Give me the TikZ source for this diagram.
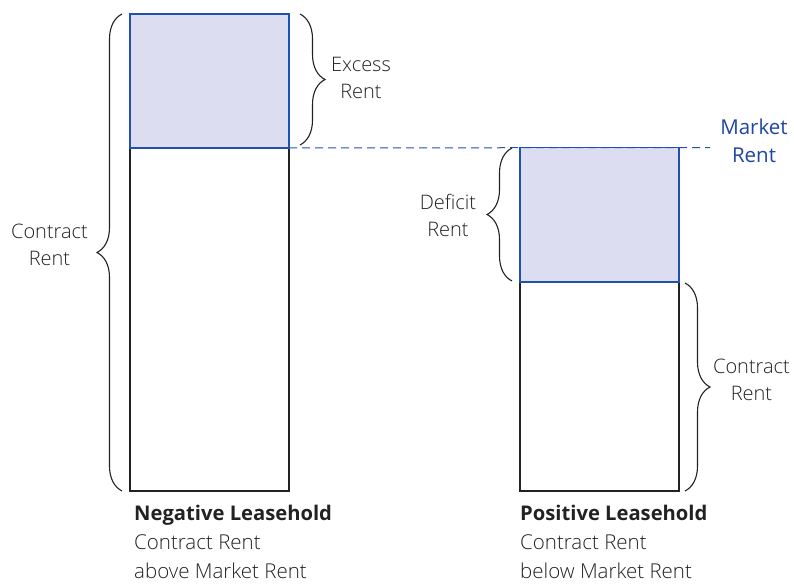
\documentclass[tikz,border=0pt]{standalone}
\usepackage{fontspec}
\setmainfont{Open Sans}
\newfontfamily\regfont{Open Sans}
\IfFontExistsTF{Open Sans Light}{\newfontfamily\lightfont{Open Sans Light}}{\newfontfamily\lightfont{Open Sans}}
\usetikzlibrary{decorations.pathreplacing}
\definecolor{boxfill}{HTML}{DCDDF0}
\definecolor{boxblue}{HTML}{2050B0}
\definecolor{txtblue}{HTML}{1F47A0}
\definecolor{ink}{HTML}{222222}
\tikzset{
  lbl/.style={font=\lightfont\fontsize{20}{27}\selectfont, text=ink, inner sep=0pt, anchor=base},
  lblw/.style={lbl, anchor=base west, font=\lightfont\fontsize{20.5}{27}\selectfont},
  boldlbl/.style={lblw, font=\regfont\bfseries\fontsize{20.2}{27}\selectfont},
  bluelbl/.style={lbl, text=txtblue, font=\regfont\fontsize{20.5}{27}\selectfont},
  excessbox/.style={draw=boxblue, fill=boxfill, line width=1.1pt},
  rentbox/.style={draw=ink, line width=1.1pt},
  bracket/.style={draw=ink, line width=1.1pt, decorate, decoration={brace, amplitude=25pt}},
  marketline/.style={draw=boxblue, line width=1pt, dash pattern=on 8pt off 5pt}
}
\begin{document}
\begin{tikzpicture}[x=1pt,y=-1pt]
\useasboundingbox (0,0) rectangle (794,583);
% left column
\coordinate (LTL) at (130,14);
\coordinate (LMR) at (289,148);
\coordinate (LML) at (130,148);
\coordinate (LBR) at (289,491);
\draw[rentbox] (LML) rectangle (LBR);
\draw[excessbox] (LTL) rectangle (LMR);
% right column
\coordinate (RTL) at (520,147.5);
\coordinate (RMR) at (679,282);
\coordinate (RML) at (520,282);
\coordinate (RBR) at (679,491);
\draw[rentbox] (RML) rectangle (RBR);
\draw[excessbox] (RTL) rectangle (RMR);
% market rent line
\coordinate (MEnd) at (710,147.5);
\draw[marketline] (LMR) -- (MEnd);
% braces
\coordinate (B1a) at (122,491); \coordinate (B1b) at (122,14);
\draw[bracket] (B1a) -- (B1b);
\coordinate (B2a) at (300,14); \coordinate (B2b) at (300,145);
\draw[bracket] (B2a) -- (B2b);
\coordinate (B3a) at (512,281); \coordinate (B3b) at (512,148);
\draw[bracket] (B3a) -- (B3b);
\coordinate (B4a) at (685,283); \coordinate (B4b) at (685,491);
\draw[bracket] (B4a) -- (B4b);
% labels
\node[lbl] (cr1a) at (49.5,238) {Contract};
\node[lbl] (cr1b) at (49.5,265) {Rent};
\node[lbl] (exa) at (361,72) {Excess};
\node[lbl] (exb) at (361,99) {Rent};
\node[bluelbl] (mra) at (754,135) {Market};
\node[bluelbl] (mrb) at (754,162) {Rent};
\node[lbl] (dfa) at (448,209) {Deficit};
\node[lbl] (dfb) at (448,236) {Rent};
\node[lbl] (cr2a) at (751.5,373) {Contract};
\node[lbl] (cr2b) at (751.5,400) {Rent};
% bottom captions
\node[boldlbl] (nega) at (134,520) {Negative Leasehold};
\node[lblw] (negb) at (134,549.5) {Contract Rent};
\node[lblw] (negc) at (134,578.5) {above Market Rent};
\node[boldlbl] (posa) at (520,520) {Positive Leasehold};
\node[lblw] (posb) at (520,549.5) {Contract Rent};
\node[lblw] (posc) at (520,578.5) {below Market Rent};
\end{tikzpicture}
\end{document}
